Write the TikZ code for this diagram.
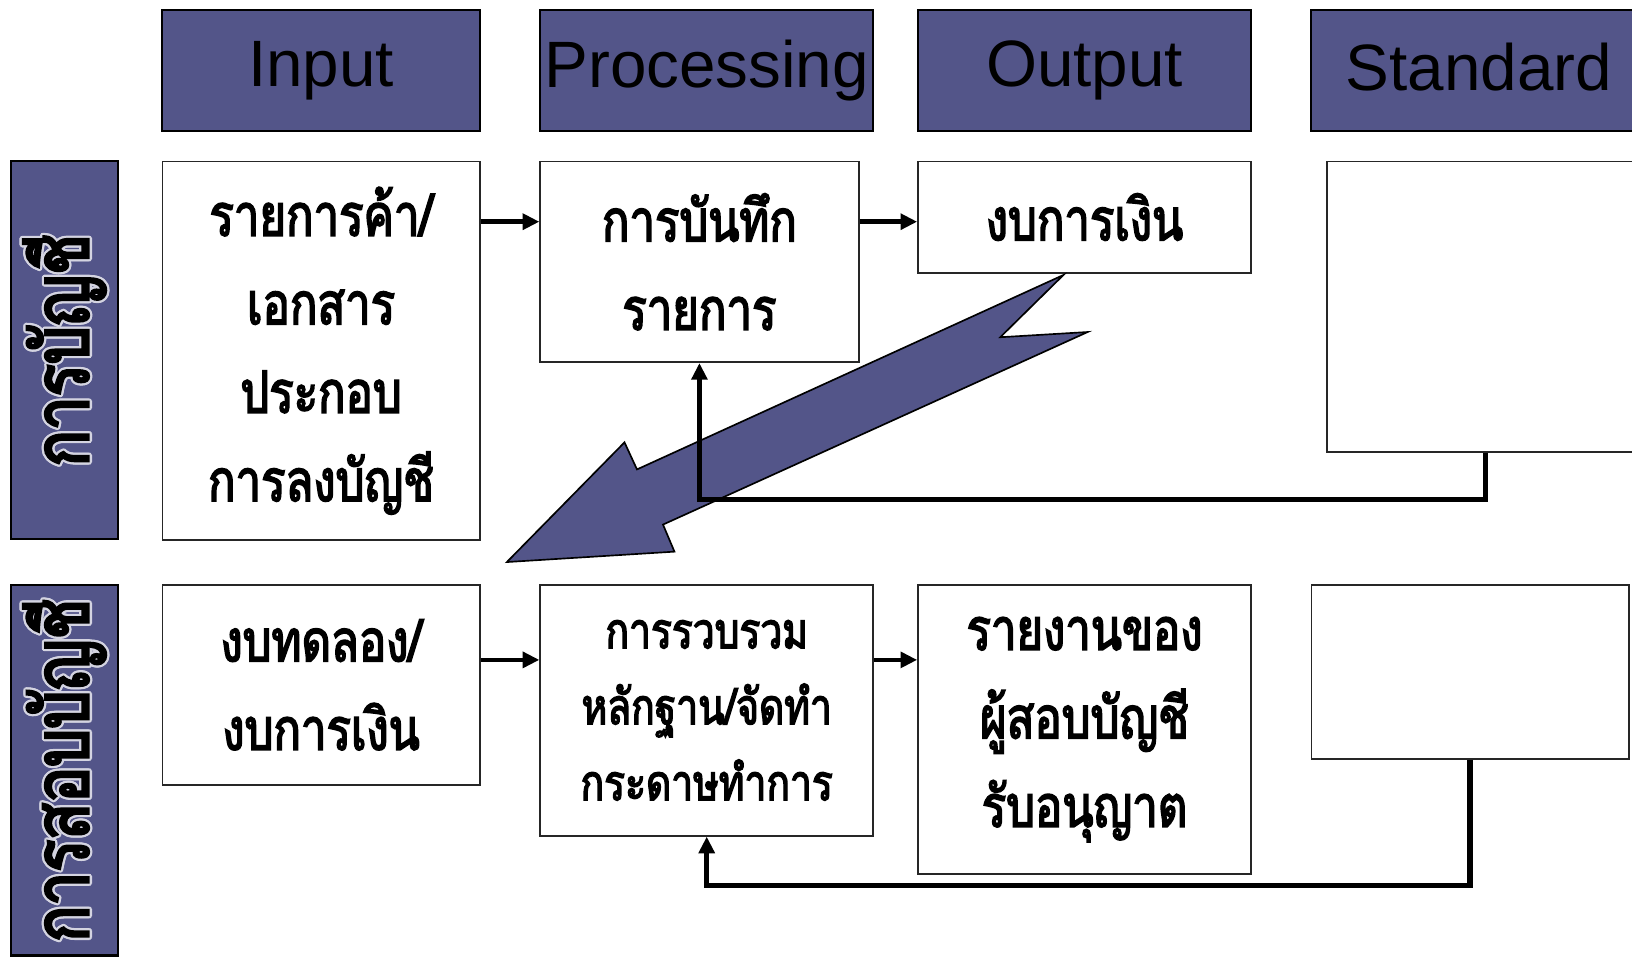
\documentclass[tikz,border=0pt]{standalone}
\usepackage{fontspec}
\setmainfont{Liberation Sans}
\newfontfamily\thai[Script=Thai, FakeStretch=0.78, FakeBold=2.8]{Loma}
\newfontfamily\thaibar[Script=Thai, FakeStretch=0.78, FakeBold=3.5]{Loma}
\usetikzlibrary{arrows.meta,fit}
\definecolor{hdrblue}{RGB}{83,85,137}
\begin{document}
\begin{tikzpicture}[x=0.5pt,y=-0.5pt,
  hdr/.style={draw=black, line width=1pt, fill=hdrblue, inner sep=0pt},
  box/.style={draw=black!85, line width=0.8pt, fill=white, inner sep=0pt},
  htxt/.style={font=\fontsize{31.5}{36}\selectfont, text=black, inner sep=0pt},
  ttxt/.style={font=\thai\fontsize{28}{42.5}\selectfont, align=center, inner sep=0pt},
  stxt/.style={font=\thai\fontsize{24}{36.5}\selectfont, align=center, inner sep=0pt},
  bartxt/.style={font=\thaibar\fontsize{37}{40}\selectfont, rotate=90, inner sep=0pt},
  arr/.style={line width=2.2pt, -{Triangle[length=8pt,width=7.5pt]}},
  fb/.style={line width=2.6pt, -{Triangle[length=8pt,width=7.5pt]}},
  bolt/.style={draw=black, line width=0.8pt, fill=hdrblue, line join=miter}
]
\clip (0,0) rectangle (1568,922);
\fill[white] (0,0) rectangle (1568,922);

% header row
\node[hdr, fit={(156,10)(461,126)}] (hin) {};
\node[htxt] (hint) at (hin.center) {Input};
\node[hdr, fit={(519,10)(839,126)}] (hproc) {};
\node[htxt] (hproct) at (hproc.center) {Processing};
\node[hdr, fit={(882,10)(1202,126)}] (hout) {};
\node[htxt] (houtt) at (hout.center) {Output};
\node[hdr, fit={(1260,10)(1582,126)}] (hstd) {};
\node[htxt] (hstdt) at ([yshift=2pt]hstd.center) {Standard};

% side bars
\node[hdr, fit={(11,155)(113,518)}] (bar1) {};
\node[hdr, fit={(11,562)(113,918)}] (bar2) {};
\foreach \a in {0,30,...,330} {
  \node[bartxt, text=white!75!hdrblue] (bga\a) at ([shift={(\a:1.1pt)}]bar1.center) {การบัญชี};
  \node[bartxt, text=white!75!hdrblue] (bgb\a) at ([shift={(\a:1.1pt)}]bar2.center) {การสอบบัญชี};
}
\node[bartxt] (bar1t) at (bar1.center) {การบัญชี};
\node[bartxt] (bar2t) at (bar2.center) {การสอบบัญชี};

% row 1 boxes
\node[box, fit={(156,155)(461,519)}] (in1) {};
\node[ttxt] (in1t) at (in1.center) {รายการค้า/\\เอกสาร\\ประกอบ\\การลงบัญชี};
\node[box, fit={(519,155)(825,348)}] (proc1) {};
\node[ttxt] (proc1t) at (proc1.center) {การบันทึก\\รายการ};
\node[box, fit={(882,155)(1202,262)}] (out1) {};
\node[ttxt] (out1t) at (out1.center) {งบการเงิน};
\node[box, fit={(1275,155)(1579,434)}] (std1) {};

% row 2 boxes
\node[box, fit={(156,562)(461,754)}] (in2) {};
\node[ttxt] (in2t) at (in2.center) {งบทดลอง/\\งบการเงิน};
\node[box, fit={(519,562)(839,803)}] (proc2) {};
\node[stxt] (proc2t) at (proc2.center) {การรวบรวม\\หลักฐาน/จัดทำ\\กระดาษทำการ};
\node[box, fit={(882,562)(1202,840)}] (out2) {};
\node[ttxt] (out2t) at (out2.center) {รายงานของ\\ผู้สอบบัญชี\\รับอนุญาต};
\node[box, fit={(1260,562)(1565,729)}] (std2) {};

% lightning arrow
\draw[bolt] (1021.7,264.2) -- (961,324) -- (1045,319) -- (637,504) -- (648,530)
  -- (487,540) -- (600,425) -- (612,451) -- cycle;

% row connectors
\coordinate (r1) at (0,213);
\coordinate (r2) at (0,634);
\draw[arr] (in1.east |- r1) -- (proc1.west |- r1);
\draw[arr] (proc1.east |- r1) -- (out1.west |- r1);
\draw[arr] (in2.east |- r2) -- (proc2.west |- r2);
\draw[arr] (proc2.east |- r2) -- (out2.west |- r2);

% feedback connectors
\draw[fb] (std1.south) -- ++(0,45) -| (proc1.south);
\draw[fb] (std2.south) -- ++(0,121) -| (proc2.south);
\end{tikzpicture}
\end{document}
